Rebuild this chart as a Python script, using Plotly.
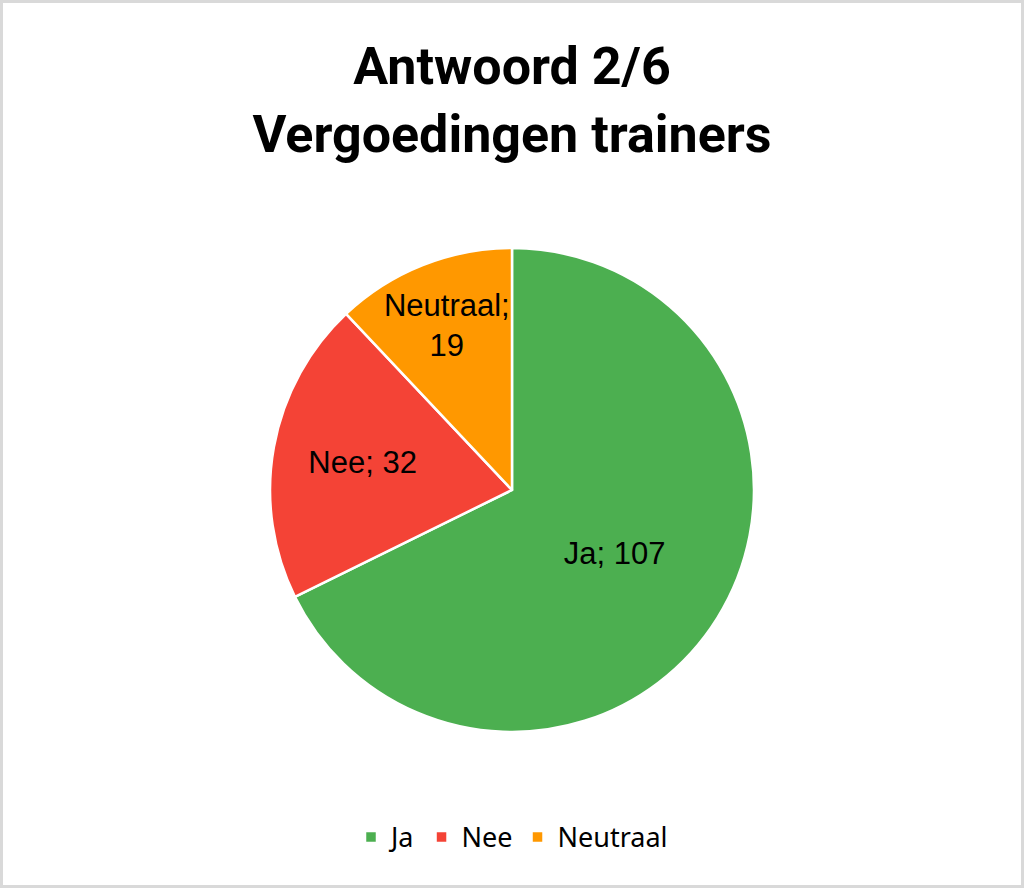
import plotly.graph_objects as go

labels = ["Ja", "Nee", "Neutraal"]
values = [107, 32, 19]
colors = ["#4CAF50", "#F44336", "#FF9800"]
templates = ["%{label}; %{value}", "%{label}; %{value}", "%{label};<br>%{value}"]

fig = go.Figure(go.Pie(
    labels=labels,
    values=values,
    sort=False,
    direction="clockwise",
    rotation=0,
    marker=dict(colors=colors, line=dict(color="white", width=2.5)),
    texttemplate=templates,
    textposition="inside",
    insidetextorientation="horizontal",
    textfont=dict(family="Liberation Sans, Arial, sans-serif", size=31, color="black"),
    hoverinfo="label+value+percent",
    domain=dict(x=[0.2637, 0.7363], y=[0.1757, 0.7207]),
))

fig.update_layout(
    width=1024, height=888,
    margin=dict(l=0, r=0, t=0, b=0),
    paper_bgcolor="white",
    uniformtext=dict(minsize=31, mode="show"),
    title=dict(
        text="Antwoord 2/6<br>Vergoedingen trainers",
        x=0.5, xanchor="center", y=0.905, yanchor="middle",
        font=dict(family="Roboto, sans-serif", size=52, color="black", weight="bold"),
    ),
    legend=dict(
        orientation="h", x=0.5, xanchor="center", y=0.057, yanchor="middle",
        font=dict(family="Noto Sans, sans-serif", size=27, color="black"),
        itemwidth=30,
    ),
    shapes=[dict(type="rect", xref="paper", yref="paper", x0=0, x1=1, y0=0, y1=1,
                 line=dict(color="#d9d9d9", width=6))],
)

fig.write_html("out.html", config={"displayModeBar": False},
               post_script="document.body.style.margin='0';document.body.style.overflow='hidden';")
